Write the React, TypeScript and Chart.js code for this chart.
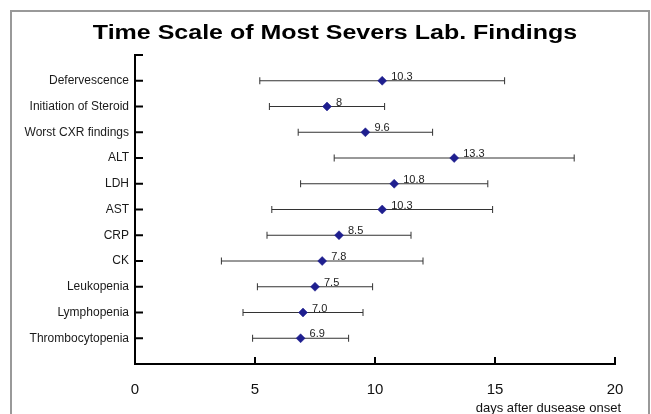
import React, { useEffect, useRef } from "react";
import { Chart, registerables } from "chart.js";

Chart.register(...registerables);

const categories = [
  "Defervescence",
  "Initiation of Steroid",
  "Worst CXR findings",
  "ALT",
  "LDH",
  "AST",
  "CRP",
  "CK",
  "Leukopenia",
  "Lymphopenia",
  "Thrombocytopenia",
];
const means = [10.3, 8, 9.6, 13.3, 10.8, 10.3, 8.5, 7.8, 7.5, 7.0, 6.9];
const lows = [5.2, 5.6, 6.8, 8.3, 6.9, 5.7, 5.5, 3.6, 5.1, 4.5, 4.9];
const highs = [15.4, 10.4, 12.4, 18.3, 14.7, 14.9, 11.5, 12.0, 9.9, 9.5, 8.9];
const valueLabels = ["10.3", "8", "9.6", "13.3", "10.8", "10.3", "8.5", "7.8", "7.5", "7.0", "6.9"];
const xTicks = [0, 5, 10, 15, 20];
const titleText = "Time Scale of Most Severs Lab. Findings";
const xAxisTitle = "days after dusease onset";

const FONT = "'Liberation Sans', Arial, sans-serif";

// category i (top to bottom) sits at y position N - i
const N = categories.length;
const yPos = categories.map((_, i) => N - i);

const customPlugin = {
  id: "custom",
  beforeDraw(chart: any) {
    const ctx = chart.ctx;
    ctx.save();
    ctx.strokeStyle = "#999999";
    ctx.lineWidth = 2;
    ctx.strokeRect(11, 11, 638, 460);
    // title (wide, bold)
    ctx.fillStyle = "#000";
    ctx.font = `bold 20px ${FONT}`;
    ctx.textAlign = "center";
    ctx.textBaseline = "alphabetic";
    ctx.translate(335, 39);
    ctx.scale(1.25, 1);
    ctx.fillText(titleText, 0, 0);
    ctx.restore();
  },
  beforeDatasetsDraw(chart: any) {
    const ctx = chart.ctx;
    const xs = chart.scales.x;
    const ys = chart.scales.y;
    ctx.save();
    ctx.strokeStyle = "#333333";
    ctx.lineWidth = 1;
    for (let i = 0; i < N; i++) {
      const y = ys.getPixelForValue(yPos[i]);
      const x1 = xs.getPixelForValue(lows[i]);
      const x2 = xs.getPixelForValue(highs[i]);
      ctx.beginPath();
      ctx.moveTo(x1, y);
      ctx.lineTo(x2, y);
      ctx.moveTo(x1, y - 3.5);
      ctx.lineTo(x1, y + 3.5);
      ctx.moveTo(x2, y - 3.5);
      ctx.lineTo(x2, y + 3.5);
      ctx.stroke();
    }
    ctx.restore();
  },
  afterDraw(chart: any) {
    const ctx = chart.ctx;
    const xs = chart.scales.x;
    const ys = chart.scales.y;
    const area = chart.chartArea;
    ctx.save();
    // inward tick marks
    ctx.strokeStyle = "#000";
    ctx.lineWidth = 2;
    ctx.beginPath();
    for (let v = 0; v <= N + 1; v++) {
      const y = ys.getPixelForValue(v);
      ctx.moveTo(area.left, y);
      ctx.lineTo(area.left + 8, y);
    }
    for (const v of xTicks) {
      const x = xs.getPixelForValue(v);
      ctx.moveTo(x, area.bottom);
      ctx.lineTo(x, area.bottom - 7);
    }
    ctx.stroke();
    // value labels
    ctx.fillStyle = "#222";
    ctx.font = `11px ${FONT}`;
    ctx.textAlign = "left";
    ctx.textBaseline = "alphabetic";
    for (let i = 0; i < N; i++) {
      const x = xs.getPixelForValue(means[i]);
      const y = ys.getPixelForValue(yPos[i]);
      ctx.fillText(valueLabels[i], x + 9, y - 1);
    }
    // x axis title
    ctx.fillStyle = "#111";
    ctx.font = `13px ${FONT}`;
    ctx.textAlign = "right";
    ctx.fillText(xAxisTitle, area.right + 6, 411.5);
    ctx.restore();
  },
};

export default function App() {
  const ref = useRef<HTMLCanvasElement>(null);
  useEffect(() => {
    if (!ref.current) return;
    const chart = new Chart(ref.current, {
      type: "scatter",
      data: {
        datasets: [
          {
            data: means.map((m, i) => ({ x: m, y: yPos[i] })),
            pointStyle: "rectRot",
            pointRadius: 4.5,
            pointHoverRadius: 4.5,
            backgroundColor: "#1f1f8f",
            borderColor: "#1f1f8f",
            borderWidth: 0.5,
          },
        ],
      },
      options: {
        responsive: false,
        animation: false,
        layout: { padding: { left: 20, right: 36, top: 55, bottom: 0 } },
        plugins: {
          legend: { display: false },
          tooltip: { enabled: false },
          title: { display: false },
        },
        scales: {
          x: {
            type: "linear",
            min: 0,
            max: 20,
            afterBuildTicks: (s: any) => {
              s.ticks = xTicks.map((v) => ({ value: v }));
            },
            afterFit: (s: any) => {
              s.height = 50;
            },
            grid: { display: false, drawTicks: false, tickLength: 0 },
            border: { display: true, color: "#000", width: 2 },
            ticks: {
              padding: 17,
              color: "#111",
              font: { size: 15, family: FONT },
              maxRotation: 0,
              autoSkip: false,
            },
          },
          y: {
            type: "linear",
            min: 0,
            max: N + 1,
            afterBuildTicks: (s: any) => {
              const t = [];
              for (let v = 0; v <= N + 1; v++) t.push({ value: v });
              s.ticks = t;
            },
            afterFit: (s: any) => {
              s.width = 115;
            },
            grid: { display: false, drawTicks: false, tickLength: 0 },
            border: { display: true, color: "#000", width: 2 },
            ticks: {
              padding: 6,
              color: "#1a1a1a",
              font: { size: 12, family: FONT },
              autoSkip: false,
              callback: (v: any) => {
                const i = N - Number(v);
                return i >= 0 && i < N ? categories[i] : "";
              },
            },
          },
        },
      },
      plugins: [customPlugin],
    });
    return () => chart.destroy();
  }, []);
  return (
    <div style={{ position: "absolute", left: 0, top: 0, width: 651, height: 414, background: "#fff" }}>
      <canvas ref={ref} width={651} height={414} />
    </div>
  );
}
